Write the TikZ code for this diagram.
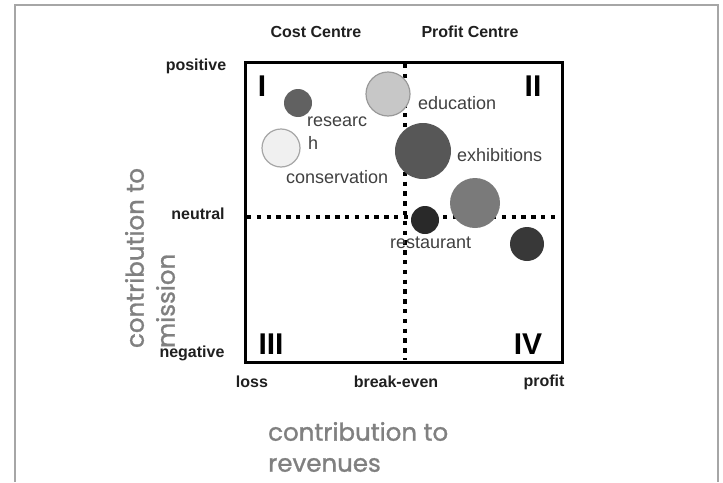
\documentclass[tikz,border=0pt]{standalone}
\usepackage{fontspec}
\setmainfont{Liberation Sans}
\newfontfamily\axisfont[FakeBold=1.2]{Poppins}
\begin{document}
\begin{tikzpicture}[x=1pt,y=-1pt,
  lbl/.style={inner sep=0pt, text=black!88, font=\fontsize{16}{19}\selectfont\bfseries},
  quad/.style={inner sep=0pt, text=black, font=\fontsize{30}{34}\selectfont\bfseries},
  itemlbl/.style={inner sep=0pt, anchor=west, text=black!75, font=\fontsize{18}{21}\selectfont},
  axistitle/.style={inner sep=0pt, align=left, text=black!50, font=\fontsize{24.5}{31}\selectfont\axisfont},
  bubble/.style={circle, inner sep=0pt},
  dotline/.style={line width=4.4pt, dash pattern=on 4.4pt off 5.4pt}
]
\useasboundingbox (0,0) rectangle (723,482);
% outer frame
\draw[black!35, line width=1.5pt] (15,482) -- (15,5) -- (718,5) -- (718,482);

% coordinates
\coordinate (tl) at (245,62);
\coordinate (br) at (562,362);
\coordinate (vtop) at (405,64);
\coordinate (vbot) at (405,360);
\coordinate (hl) at (247,217);
\coordinate (hr) at (558,217);

% dotted axes
\draw[dotline] (vtop) -- (vbot);
\draw[dotline] (hl) -- (hr);
% box
\draw[line width=3pt] (tl) rectangle (br);

% header labels
\node[lbl] (cost) at (316,32) {Cost Centre};
\node[lbl] (profitc) at (470,32) {Profit Centre};
\node[lbl] (pos) at (196,66) {positive};
\node[lbl] (neu) at (198,214) {neutral};
\node[lbl] (neg) at (192,353) {negative};
\node[lbl] (loss) at (252,382) {loss};
\node[lbl] (be) at (396,382) {break-even};
\node[lbl] (prof) at (544,382) {profit};

% quadrant numerals
\node[quad] (q1) at (262,86) {I};
\node[quad] (q2) at (533,86) {II};
\node[quad] (q3) at (271,344) {III};
\node[quad] (q4) at (528,344) {IV};

% bubbles
\node[bubble, fill=black!62, minimum size=28pt] (research) at (298,103) {};
\node[bubble, fill=black!22, draw=black!40, line width=1.2pt, minimum size=44pt] (education) at (388,94) {};
\node[bubble, fill=black!6, draw=black!35, line width=1.2pt, minimum size=38pt] (conservation) at (281,148) {};
\node[bubble, fill=black!66, minimum size=56pt] (exhibitions) at (423,151) {};
\node[bubble, fill=black!52, minimum size=50pt] (shop) at (475,203) {};
\node[bubble, fill=black!84, minimum size=28pt] (restaurant) at (425,220) {};
\node[bubble, fill=black!78, minimum size=34pt] (other) at (527,244) {};

% bubble labels
\node[itemlbl] (educationl) at (418,103) {education};
\node[itemlbl] (researchl1) at (307,122) {researc};
\node[itemlbl] (researchl2) at (308,143) {h};
\node[itemlbl] (conservationl) at (286,177) {conservation};
\node[itemlbl] (exhibitionsl) at (457,155) {exhibitions};
\node[itemlbl] (restaurantl) at (390,243) {restaurant};

% axis titles
\node[axistitle, rotate=90] (ytitle) at (150,258) {contribution to\\mission};
\node[axistitle, anchor=west] (xtitle) at (268,447) {contribution to\\revenues};
\end{tikzpicture}
\end{document}
